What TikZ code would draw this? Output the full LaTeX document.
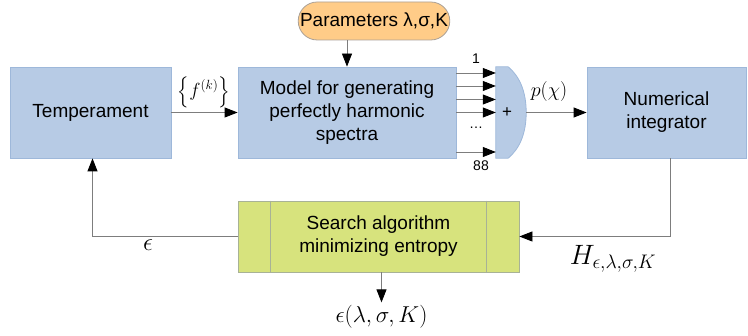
\RequirePackage{fix-cm}
\documentclass[tikz,border=0pt]{standalone}
\usepackage{amsmath}
\usepackage{fontspec}
\setmainfont{Liberation Sans}
\usepackage{tikz}
\usetikzlibrary{%
  arrows.meta,%
  shapes.misc,% wg. rounded rectangle
  positioning% wg. " of "
}
\definecolor{boxblue}{RGB}{183,203,229}
\definecolor{boxrim}{RGB}{158,184,218}
\definecolor{searchgreen}{RGB}{215,227,125}
\definecolor{searchrim}{RGB}{168,178,150}
\definecolor{paramorange}{RGB}{255,204,136}
\definecolor{paramrim}{RGB}{170,160,150}
\definecolor{wiregray}{RGB}{125,125,125}

\begin{document}
\begin{tikzpicture}[x=1pt, y=-1pt, font=\fontsize{19}{23}\selectfont]
  \useasboundingbox (0,0) rectangle (748,336);
  \tikzset{BlockStyle/.style = {draw=boxrim, fill=boxblue, line width=0.8pt,
      align=center, inner sep=0pt}}
  \tikzset{SmallText/.style = {font=\fontsize{14}{16}\selectfont, inner sep=0pt}}
  \tikzset{MathText/.style = {font=\fontsize{21}{24}\selectfont, inner sep=0pt}}

  % blocks
  \node[BlockStyle, minimum width=161, minimum height=91] (temper) at (90.5,112.5) {Temperament};
  \node[BlockStyle, minimum width=218, minimum height=91] (model) at (347,112.5)
    {Model for generating\\perfectly harmonic\\spectra};
  \node[minimum width=30, minimum height=91, inner sep=0pt] (sum) at (511,112.5) {};
  \node[BlockStyle, minimum width=159, minimum height=91] (integ) at (666.5,112.5)
    {Numerical\\integrator};
  \node[rounded rectangle, draw=paramrim, fill=paramorange, line width=0.8pt,
    minimum width=138, minimum height=38, inner sep=0pt] (params) at (374,21)
    {Parameters λ,σ,K};
  \node[draw=searchrim, fill=searchgreen, line width=0.8pt, align=center, inner sep=0pt,
    minimum width=281, minimum height=71] (search) at (378.5,236.5)
    {Search algorithm\\minimizing entropy};
  \draw[searchrim, line width=0.8pt] ([xshift=33pt]search.north west) -- ([xshift=33pt]search.south west);
  \draw[searchrim, line width=0.8pt] ([xshift=-33pt]search.north east) -- ([xshift=-33pt]search.south east);

  % summing block
  \draw[draw=boxrim, fill=boxblue, line width=0.8pt] (sum.north west) -- ([xshift=-18pt]sum.north east)
    .. controls ([xshift=-6pt,yshift=-10pt]sum.north east) and ([yshift=20pt]sum.east) .. (sum.east)
    .. controls ([yshift=-20pt]sum.east) and ([xshift=-6pt,yshift=10pt]sum.south east) .. ([xshift=-18pt]sum.south east)
    -- (sum.south west) -- cycle;
  \node[SmallText, font=\fontsize{17}{19}\selectfont] (plus) at ([xshift=-4pt]sum.center) {+};

  % signal flow
  \tikzset{EdgeStyle/.style = {-{Triangle[length=13pt, width=10pt, color=black]}, wiregray, line width=0.8pt}}
  \draw[EdgeStyle] ([xshift=-27pt]params.south) -- ([xshift=-27pt]params.south |- model.north);
  \draw[EdgeStyle] (temper) -- (model);
  \foreach \y in {73,86,99.5,112.5,152}
    \draw[EdgeStyle] (model.east |- 0,\y) -- (sum.west |- 0,\y);
  \draw[EdgeStyle] (sum.east) -- (integ);
  \node[SmallText] (first) at (476,59) {1};
  \node[SmallText] (dots) at (476,128) {\ldots};
  \node[SmallText] (last) at (481,166) {88};

  % feedback loop
  \draw[EdgeStyle] ([xshift=4pt]integ.south) |- (search.east);
  \draw[EdgeStyle] (search.west) -| ([xshift=2pt]temper.south);
  \draw[EdgeStyle] ([xshift=3pt]search.south) -- ++(0,30) coordinate (tip);

  % labels
  \node[MathText, font=\fontsize{19}{22}\selectfont] (fk) at (204,92) {$\left\{f^{(k)}\right\}$};
  \node[MathText, font=\fontsize{20}{22}\selectfont] (pchi) at (549,92) {$p(\chi)$};
  \node[MathText, font=\fontsize{25}{28}\selectfont] (eps) at (148,245) {$\epsilon$};
  \node[MathText, font=\fontsize{28}{30}\selectfont] (H) at (613,259) {$H_{\epsilon,\lambda,\sigma,K}$};
  \node[MathText, font=\fontsize{23}{26}\selectfont, below=3pt of tip] (result) {$\epsilon(\lambda,\sigma,K)$};
\end{tikzpicture}
\end{document}
